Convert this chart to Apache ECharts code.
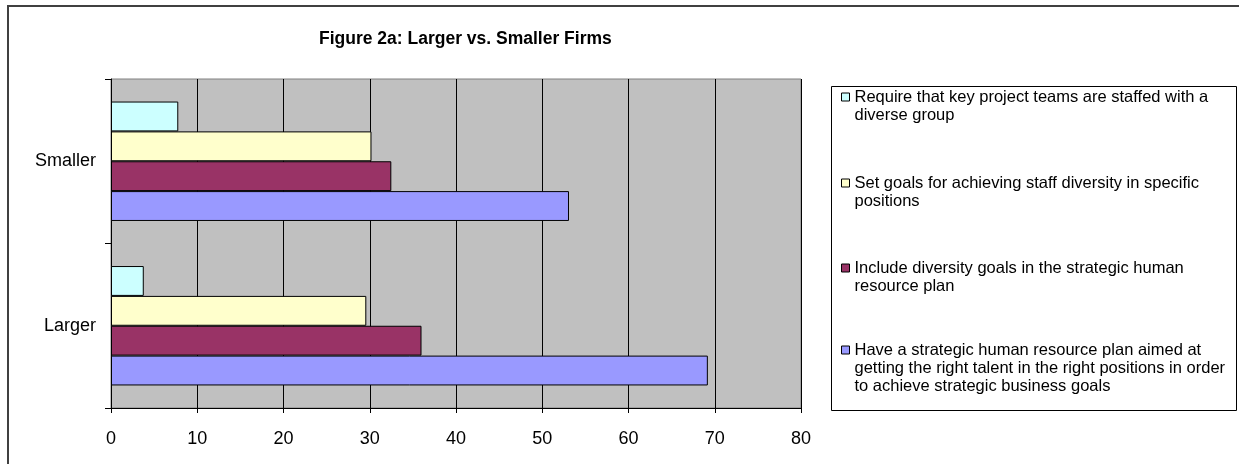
<!DOCTYPE html>
<html>
<head>
<meta charset="utf-8">
<title>Figure 2a: Larger vs. Smaller Firms</title>
<script src="https://cdn.jsdelivr.net/npm/echarts@6/dist/echarts.min.js"></script>
<style>
    html, body { margin: 0; padding: 0; background: #fff; }
    #chart { width: 1239px; height: 464px; }
</style>
</head>
<body>
<div id="chart"></div>
<script>
// 数据
const categories = ['Larger', 'Smaller'];
const xTicks = [0, 10, 20, 30, 40, 50, 60, 70, 80];

const teamsDiverse = [3.8, 7.8];
const staffGoals = [29.6, 30.2];
const hrPlanGoals = [36.0, 32.5];
const strategicPlan = [69.2, 53.1];

const seriesNames = [
    'Require that key project teams are staffed with a diverse group',
    'Set goals for achieving staff diversity in specific positions',
    'Include diversity goals in the strategic human resource plan',
    'Have a strategic human resource plan aimed at getting the right talent in the right positions in order to achieve strategic business goals'
];
// legend text as it wraps in the picture
const legendLines = [
    ['Require that key project teams are staffed with a', 'diverse group'],
    ['Set goals for achieving staff diversity in specific', 'positions'],
    ['Include diversity goals in the strategic human', 'resource plan'],
    ['Have a strategic human resource plan aimed at', 'getting the right talent in the right positions in order', 'to achieve strategic business goals']
];
const seriesValues = [teamsDiverse, staffGoals, hrPlanGoals, strategicPlan];
const seriesColors = ['#CCFFFF', '#FFFFCC', '#993366', '#9999FF'];

(function () {
    let myCharts = echarts.init(document.getElementById('chart'));
    const font = '"Liberation Sans", Arial, sans-serif';
    const lh = 18;
    // first line centre of each legend item
    const legendFirstLine = [97, 183, 268, 350];

    let series = seriesNames.map(function (name, i) {
        return {
            name: name,
            type: 'bar',
            data: seriesValues[i],
            barGap: '0%',
            barCategoryGap: '27.4%',
            itemStyle: {
                color: seriesColors[i],
                borderColor: '#000',
                borderWidth: 1
            },
            emphasis: { disabled: true }
        };
    });

    // 每个图例单独一个组件，方便定位；前面补空行让色块对齐第一行
    let legends = seriesNames.map(function (name, i) {
        let n = legendLines[i].length;
        let blank = new Array(n - 1).fill('');
        return {
            orient: 'vertical',
            left: 841,
            top: legendFirstLine[i] - (2 * n - 1) * lh / 2,
            padding: 0,
            selectedMode: false,
            icon: 'rect',
            itemWidth: 8,
            itemHeight: 8,
            itemStyle: { borderColor: '#000', borderWidth: 1 },
            data: [name],
            formatter: function () {
                return blank.concat(legendLines[i]).join('\n');
            },
            textStyle: {
                fontFamily: font,
                fontSize: 16.5,
                color: '#000',
                lineHeight: lh
            }
        };
    });

    let option = {
        backgroundColor: '#fff',
        animation: false,
        title: {
            text: 'Figure 2a: Larger vs. Smaller Firms',
            left: 314,
            top: 25,
            textStyle: {
                fontFamily: font,
                fontSize: 17.5,
                fontWeight: 'bold',
                color: '#000'
            }
        },
        graphic: [
            {
                type: 'rect',
                z: -10,
                shape: { x: 8, y: 6, width: 1260, height: 480 },
                style: { fill: 'none', stroke: '#404040', lineWidth: 2 }
            },
            {
                type: 'rect',
                z: -5,
                shape: { x: 831.5, y: 86.5, width: 405, height: 324 },
                style: { fill: '#fff', stroke: '#000', lineWidth: 1 }
            }
        ],
        legend: legends,
        grid: {
            left: 111,
            top: 79,
            right: 1239 - 801,
            bottom: 464 - 408,
            show: true,
            backgroundColor: '#C0C0C0',
            borderColor: '#808080',
            borderWidth: 1
        },
        xAxis: {
            type: 'value',
            min: xTicks[0],
            max: xTicks[xTicks.length - 1],
            interval: xTicks[1] - xTicks[0],
            axisLine: { show: true, lineStyle: { color: '#000', width: 1 } },
            axisTick: { show: true, length: 5, lineStyle: { color: '#000' } },
            axisLabel: {
                color: '#000',
                fontFamily: font,
                fontSize: 18,
                margin: 22
            },
            splitLine: { show: true, lineStyle: { color: '#000', width: 1 } }
        },
        yAxis: {
            type: 'category',
            data: categories,
            axisLine: { show: true, lineStyle: { color: '#000', width: 1 } },
            axisTick: { show: true, length: 6, lineStyle: { color: '#000' } },
            axisLabel: {
                color: '#000',
                fontFamily: font,
                fontSize: 18,
                margin: 15
            },
            splitLine: { show: false }
        },
        series: series
    };

    myCharts.setOption(option);

    window.addEventListener('resize', function () {
        myCharts.resize();
    });
})();
</script>
</body>
</html>
